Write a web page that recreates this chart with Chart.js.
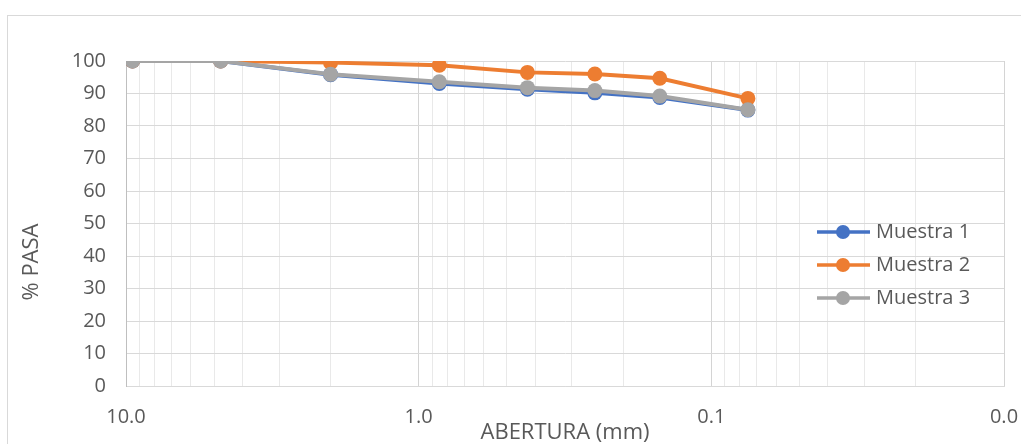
<!DOCTYPE html>
<html lang="es">
<head>
    <meta charset="UTF-8">
    <title>Curva granulométrica</title>
    <script src="https://cdn.jsdelivr.net/npm/chart.js@4.4.1/dist/chart.umd.min.js"></script>
    <style>
        * { margin: 0; padding: 0; box-sizing: border-box; }
        body { background: #fff; width: 1021px; height: 444px; overflow: hidden; }
        canvas { display: block; }
    </style>
</head>
<body>
    <canvas id="granChart" width="1021" height="444"></canvas>

    <script>
        // Tamices (abertura en mm) y % que pasa
        const aberturas = [9.5, 4.75, 2.0, 0.85, 0.425, 0.25, 0.15, 0.075];
        const muestra1 = [100, 100, 95.8, 93.1, 91.3, 90.2, 88.8, 84.9];
        const muestra2 = [100, 100, 99.5, 98.7, 96.5, 96.0, 94.7, 88.5];
        const muestra3 = [100, 100, 95.9, 93.6, 91.8, 90.9, 89.2, 85.0];

        const nombres = ['Muestra 1', 'Muestra 2', 'Muestra 3'];
        const colores = ['#4472C4', '#ED7D31', '#A5A5A5'];

        // ticks del eje x (log): décadas con etiqueta, intermedios solo con rejilla
        const decadas = [0.01, 0.1, 1, 10];
        const ticksX = [];
        decadas.forEach(d => {
            for (let m = 1; m <= 9; m++) {
                if (d === 10 && m > 1) break;
                ticksX.push(+(d * m).toPrecision(3));
            }
        });

        const FONT = "'Open Sans', sans-serif";
        const gris = '#595959';

        function puntos(valores) {
            return aberturas.map((a, i) => ({ x: a, y: valores[i] }));
        }

        const series = [muestra1, muestra2, muestra3];

        // marco, título del eje y y leyenda interior
        const extras = {
            id: 'extras',
            beforeDraw(chart) {
                const ctx = chart.ctx;
                ctx.save();
                ctx.strokeStyle = '#d9d9d9';
                ctx.lineWidth = 1;
                ctx.strokeRect(7.5, 15.5, 2000, 2000);
                ctx.restore();
            },
            afterDraw(chart) {
                const ctx = chart.ctx;
                ctx.save();
                ctx.fillStyle = gris;
                ctx.font = "22px " + FONT;
                ctx.textAlign = 'center';
                ctx.textBaseline = 'middle';
                ctx.translate(32, 262);
                ctx.rotate(-Math.PI / 2);
                ctx.fillText('% PASA', 0, 0);
                ctx.restore();

                ctx.save();
                ctx.font = "20px " + FONT;
                ctx.textBaseline = 'middle';
                nombres.forEach((n, i) => {
                    const y = 232 + i * 33;
                    ctx.strokeStyle = colores[i];
                    ctx.lineWidth = 3.5;
                    ctx.beginPath();
                    ctx.moveTo(817, y);
                    ctx.lineTo(870, y);
                    ctx.stroke();
                    ctx.fillStyle = colores[i];
                    ctx.beginPath();
                    ctx.arc(843, y, 7, 0, Math.PI * 2);
                    ctx.fill();
                    ctx.fillStyle = gris;
                    ctx.fillText(n, 876, y);
                });
                ctx.restore();
            }
        };

        new Chart(document.getElementById('granChart'), {
            type: 'line',
            data: {
                datasets: series.map((s, i) => ({
                    label: nombres[i],
                    data: puntos(s),
                    borderColor: colores[i],
                    backgroundColor: colores[i],
                    borderWidth: 4,
                    pointRadius: 7.5,
                    pointBorderWidth: 0,
                    pointHoverRadius: 7.5,
                    tension: 0,
                    order: 2 - i
                }))
            },
            options: {
                responsive: false,
                animation: false,
                layout: { padding: { top: 61, right: 17, left: 0, bottom: 0 } },
                plugins: {
                    legend: { display: false },
                    tooltip: { enabled: false }
                },
                scales: {
                    x: {
                        type: 'logarithmic',
                        reverse: true,
                        min: 0.01,
                        max: 10,
                        afterBuildTicks: scale => {
                            scale.ticks = ticksX.map(v => ({ value: v }));
                        },
                        afterFit: scale => { scale.height = 58; },
                        ticks: {
                            autoSkip: false,
                            maxRotation: 0,
                            padding: 19,
                            color: gris,
                            font: { family: FONT, size: 20 },
                            callback: v => decadas.includes(v) ? v.toFixed(1) : ''
                        },
                        grid: {
                            drawTicks: false,
                            color: ctx => decadas.includes(ctx.tick && ctx.tick.value) ? '#d4d4d4' : '#e9e9e9'
                        },
                        border: { color: '#d9d9d9' },
                        title: {
                            display: true,
                            text: 'ABERTURA (mm)',
                            color: gris,
                            font: { family: FONT, size: 22 },
                            padding: { top: 0, bottom: -2 }
                        }
                    },
                    y: {
                        min: 0,
                        max: 100,
                        afterFit: scale => { scale.width = 126; },
                        ticks: {
                            stepSize: 10,
                            padding: 20,
                            color: gris,
                            font: { family: FONT, size: 20 }
                        },
                        grid: { drawTicks: false, color: '#d9d9d9' },
                        border: { color: '#bfbfbf' }
                    }
                }
            },
            plugins: [extras]
        });
    </script>
</body>
</html>
